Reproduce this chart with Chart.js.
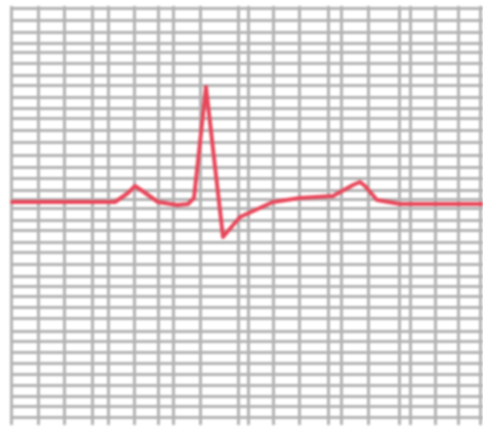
<!DOCTYPE html>
<html>
<head>
<meta charset="utf-8">
<script src="https://cdn.jsdelivr.net/npm/chart.js@4.4.0/dist/chart.umd.min.js"></script>
<style>
  html, body { margin: 0; padding: 0; background: #ffffff; }
  #wrap { width: 483px; height: 430px; }
  canvas { filter: blur(1px); }
</style>
</head>
<body>
<div id="wrap"><canvas id="ecg"></canvas></div>
<script>
// trace: time (x) and amplitude (y), baseline at 0
let timeVals = [2, 105, 118, 125, 131, 148, 167, 178, 184, 196, 213, 230, 263, 290, 323, 343, 350, 355, 367, 390, 473];
let ampVals  = [0, 0, 0.9, 1.6, 1.2, 0, -0.3, -0.2, 0.4, 11.5, -3.5, -1.5, 0, 0.4, 0.6, 1.7, 2.0, 1.6, 0.2, -0.2, -0.2];

// grid paper lines (uneven, as in the scan)
let xGrid = [1, 28, 54, 82, 98, 124, 148, 163, 190, 228, 238, 263, 289, 318, 331, 358, 389, 400, 425, 448, 470];
let yGrid = [19.4, 18.2, 17.0, 15.9, 15.0, 13.9, 12.7, 11.7, 10.5, 9.4, 8.4, 7.2, 6.0, 4.7, 3.5, 2.4, 1.2, 0.3,
             -0.6, -1.8, -2.9, -4.0, -5.1, -6.2, -7.4, -8.4, -9.4, -10.5, -11.6, -12.9, -13.9, -15.0,
             -16.1, -17.2, -18.3, -19.4, -20.4, -21.5];

let points = timeVals.map((t, i) => ({ x: t, y: ampVals[i] }));

let gridStyle = { color: '#b3b3b3', lineWidth: 3, drawTicks: false };

let ecgChart = new Chart(document.getElementById('ecg'), {
    type: 'line',
    data: {
        datasets: [{
            data: points,
            borderColor: '#e8475a',
            borderWidth: 4,
            borderJoinStyle: 'round',
            borderCapStyle: 'round',
            pointRadius: 0,
            tension: 0,
            fill: false
        }]
    },
    options: {
        responsive: true,
        maintainAspectRatio: false,
        animation: false,
        layout: { padding: { left: 10, top: 6, right: 0, bottom: 5 } },
        plugins: { legend: { display: false }, tooltip: { enabled: false } },
        scales: {
            x: {
                type: 'linear',
                min: 0,
                max: 473,
                grid: gridStyle,
                border: { display: false },
                ticks: { display: false },
                afterBuildTicks: s => { s.ticks = xGrid.map(v => ({ value: v })) }
            },
            y: {
                type: 'linear',
                min: -22.3,
                max: 19.6,
                grid: gridStyle,
                border: { display: false },
                ticks: { display: false },
                afterBuildTicks: s => { s.ticks = yGrid.map(v => ({ value: v })) }
            }
        }
    }
});
</script>
</body>
</html>
